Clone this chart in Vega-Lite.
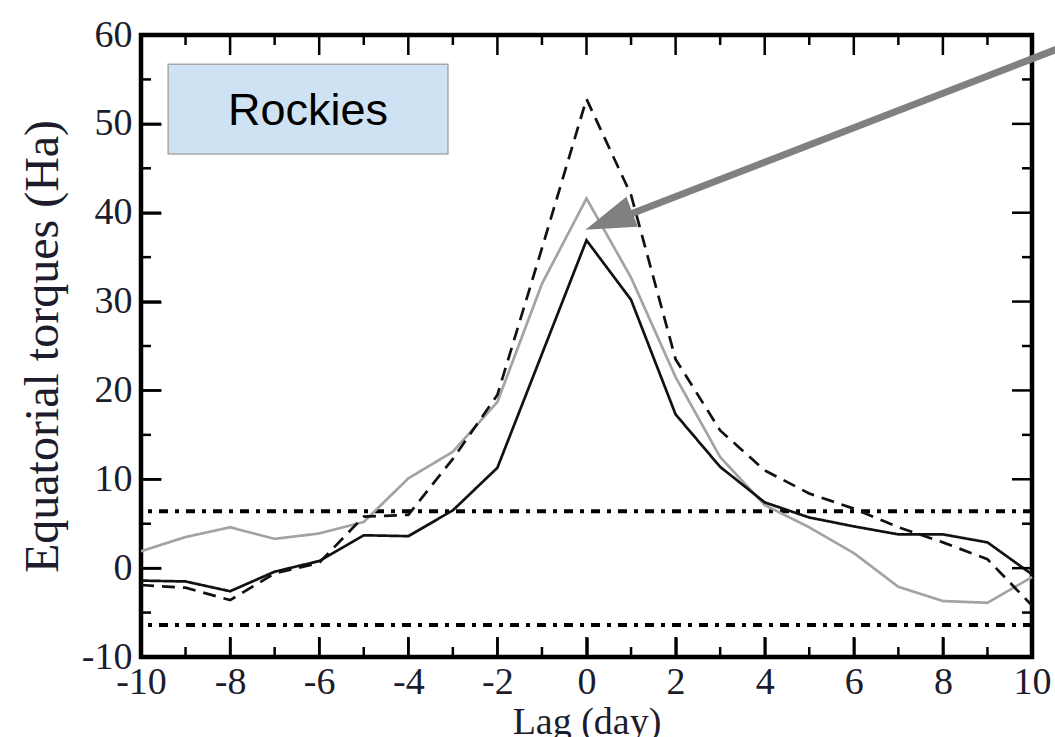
{
  "$schema": "https://vega.github.io/schema/vega-lite/v6.json",
  "width": 891,
  "height": 622,
  "autosize": {"type": "none"},
  "padding": {"left": 141, "top": 35, "right": 23, "bottom": 80},
  "background": "white",
  "config": {
    "view": {"stroke": "#000000", "strokeWidth": 4.5}
  },
  "datasets": {
    "lines": [
      {"lag": -10, "value": 1.9, "series": "gray"},
      {"lag": -9, "value": 3.5, "series": "gray"},
      {"lag": -8, "value": 4.6, "series": "gray"},
      {"lag": -7, "value": 3.3, "series": "gray"},
      {"lag": -6, "value": 3.9, "series": "gray"},
      {"lag": -5, "value": 5.2, "series": "gray"},
      {"lag": -4, "value": 10.1, "series": "gray"},
      {"lag": -3, "value": 13.1, "series": "gray"},
      {"lag": -2, "value": 18.7, "series": "gray"},
      {"lag": -1, "value": 32.0, "series": "gray"},
      {"lag": 0, "value": 41.6, "series": "gray"},
      {"lag": 1, "value": 32.7, "series": "gray"},
      {"lag": 2, "value": 21.5, "series": "gray"},
      {"lag": 3, "value": 12.5, "series": "gray"},
      {"lag": 4, "value": 7.1, "series": "gray"},
      {"lag": 5, "value": 4.6, "series": "gray"},
      {"lag": 6, "value": 1.7, "series": "gray"},
      {"lag": 7, "value": -2.1, "series": "gray"},
      {"lag": 8, "value": -3.7, "series": "gray"},
      {"lag": 9, "value": -3.9, "series": "gray"},
      {"lag": 10, "value": -1.0, "series": "gray"},
      {"lag": -10, "value": -1.4, "series": "black"},
      {"lag": -9, "value": -1.5, "series": "black"},
      {"lag": -8, "value": -2.6, "series": "black"},
      {"lag": -7, "value": -0.4, "series": "black"},
      {"lag": -6, "value": 0.8, "series": "black"},
      {"lag": -5, "value": 3.7, "series": "black"},
      {"lag": -4, "value": 3.6, "series": "black"},
      {"lag": -3, "value": 6.5, "series": "black"},
      {"lag": -2, "value": 11.3, "series": "black"},
      {"lag": -1, "value": 24.1, "series": "black"},
      {"lag": 0, "value": 36.9, "series": "black"},
      {"lag": 1, "value": 30.2, "series": "black"},
      {"lag": 2, "value": 17.3, "series": "black"},
      {"lag": 3, "value": 11.4, "series": "black"},
      {"lag": 4, "value": 7.4, "series": "black"},
      {"lag": 5, "value": 5.7, "series": "black"},
      {"lag": 6, "value": 4.7, "series": "black"},
      {"lag": 7, "value": 3.8, "series": "black"},
      {"lag": 8, "value": 3.8, "series": "black"},
      {"lag": 9, "value": 2.9, "series": "black"},
      {"lag": 10, "value": -0.7, "series": "black"},
      {"lag": -10, "value": -1.9, "series": "dashed"},
      {"lag": -9, "value": -2.2, "series": "dashed"},
      {"lag": -8, "value": -3.6, "series": "dashed"},
      {"lag": -7, "value": -0.6, "series": "dashed"},
      {"lag": -6, "value": 0.6, "series": "dashed"},
      {"lag": -5, "value": 5.8, "series": "dashed"},
      {"lag": -4, "value": 6.0, "series": "dashed"},
      {"lag": -3, "value": 12.3, "series": "dashed"},
      {"lag": -2, "value": 19.5, "series": "dashed"},
      {"lag": -1, "value": 36.0, "series": "dashed"},
      {"lag": 0, "value": 52.8, "series": "dashed"},
      {"lag": 1, "value": 42.0, "series": "dashed"},
      {"lag": 2, "value": 23.5, "series": "dashed"},
      {"lag": 3, "value": 15.5, "series": "dashed"},
      {"lag": 4, "value": 11.0, "series": "dashed"},
      {"lag": 5, "value": 8.4, "series": "dashed"},
      {"lag": 6, "value": 6.7, "series": "dashed"},
      {"lag": 7, "value": 4.6, "series": "dashed"},
      {"lag": 8, "value": 2.9, "series": "dashed"},
      {"lag": 9, "value": 1.0, "series": "dashed"},
      {"lag": 10, "value": -4.2, "series": "dashed"}
    ],
    "levels": [{"level": 6.4}, {"level": -6.4}],
    "xmajor": [{"t": -10}, {"t": -8}, {"t": -6}, {"t": -4}, {"t": -2}, {"t": 0}, {"t": 2}, {"t": 4}, {"t": 6}, {"t": 8}, {"t": 10}],
    "xminor": [{"t": -9}, {"t": -7}, {"t": -5}, {"t": -3}, {"t": -1}, {"t": 1}, {"t": 3}, {"t": 5}, {"t": 7}, {"t": 9}],
    "ymajor": [{"t": -10}, {"t": 0}, {"t": 10}, {"t": 20}, {"t": 30}, {"t": 40}, {"t": 50}, {"t": 60}],
    "yminor": [{"t": -5}, {"t": 5}, {"t": 15}, {"t": 25}, {"t": 35}, {"t": 45}, {"t": 55}],
    "box": [{"x1": -9.39, "x2": -3.11, "y1": 46.6, "y2": 56.7, "tx": -6.25, "ty": 49.86, "label": "Rockies"}],
    "arrow": [{"xs": 10.74, "ys": 58.76, "xe": 0.86, "ye": 39.6}],
    "head": [{"hx": 0.5, "hy": 39.1}]
  },
  "resolve": {"axis": {"x": "independent", "y": "independent"}},
  "layer": [
    {
      "data": {"name": "levels"},
      "mark": {"type": "rule", "color": "#000000", "strokeWidth": 4, "strokeDash": [9, 7, 4, 7]},
      "encoding": {
        "y": {"field": "level", "type": "quantitative", "scale": {"domain": [-10, 60], "nice": false, "zero": false}, "axis": null}
      }
    },
    {
      "data": {"name": "lines"},
      "mark": {"type": "line", "strokeWidth": 2.7},
      "encoding": {
        "x": {
          "field": "lag", "type": "quantitative",
          "scale": {"domain": [-10, 10], "nice": false, "zero": false},
          "axis": {
            "orient": "bottom", "offset": -20, "grid": false, "domain": false,
            "values": [-10, -8, -6, -4, -2, 0, 2, 4, 6, 8, 10],
            "labelExpr": "toString(datum.value)", "labelFlush": false, "labelOverlap": false, "labelBound": false,
            "ticks": true, "tickSize": 20, "tickColor": "#000000", "tickWidth": 2.5,
            "labelFont": "Liberation Serif", "labelFontSize": 38, "labelColor": "#1c1c2c", "labelPadding": 6,
            "title": "Lag (day)", "titleFont": "Liberation Serif", "titleFontSize": 38, "titleFontWeight": "normal", "titleColor": "#1c1c2c", "titlePadding": 2
          }
        },
        "y": {
          "field": "value", "type": "quantitative",
          "scale": {"domain": [-10, 60], "nice": false, "zero": false},
          "axis": {
            "orient": "left", "offset": -20, "grid": false, "domain": false,
            "values": [-10, 0, 10, 20, 30, 40, 50, 60],
            "labelExpr": "toString(datum.value)", "labelFlush": false, "labelOverlap": false, "labelBound": false,
            "ticks": true, "tickSize": 20, "tickColor": "#000000", "tickWidth": 2.5,
            "labelFont": "Liberation Serif", "labelFontSize": 38, "labelColor": "#1c1c2c", "labelPadding": 9,
            "title": "Equatorial torques (Ha)", "titleFont": "Liberation Serif", "titleFontSize": 48, "titleFontWeight": "normal", "titleColor": "#1c1c2c", "titlePadding": 14
          }
        },
        "color": {"field": "series", "type": "nominal", "scale": {"domain": ["gray", "black", "dashed"], "range": ["#a3a3a3", "#111111", "#111111"]}, "legend": null},
        "strokeDash": {"field": "series", "type": "nominal", "scale": {"domain": ["gray", "black", "dashed"], "range": [[1, 0], [1, 0], [13, 8]]}, "legend": null}
      }
    },
    {
      "data": {"name": "xmajor"},
      "mark": {"type": "rule", "color": "#000000", "strokeWidth": 2.5, "y2Offset": -20},
      "encoding": {
        "x": {"field": "t", "type": "quantitative", "scale": {"domain": [-10, 10], "nice": false, "zero": false}, "axis": null},
        "y": {"datum": -10, "type": "quantitative", "scale": {"domain": [-10, 60], "nice": false, "zero": false}, "axis": null},
        "y2": {"datum": -10}
      }
    },
    {
      "data": {"name": "xmajor"},
      "mark": {"type": "rule", "color": "#000000", "strokeWidth": 2.5, "y2Offset": 20},
      "encoding": {
        "x": {"field": "t", "type": "quantitative", "scale": {"domain": [-10, 10], "nice": false, "zero": false}, "axis": null},
        "y": {"datum": 60, "type": "quantitative", "scale": {"domain": [-10, 60], "nice": false, "zero": false}, "axis": null},
        "y2": {"datum": 60}
      }
    },
    {
      "data": {"name": "xminor"},
      "mark": {"type": "rule", "color": "#000000", "strokeWidth": 2.5, "y2Offset": -10},
      "encoding": {
        "x": {"field": "t", "type": "quantitative", "scale": {"domain": [-10, 10], "nice": false, "zero": false}, "axis": null},
        "y": {"datum": -10, "type": "quantitative", "scale": {"domain": [-10, 60], "nice": false, "zero": false}, "axis": null},
        "y2": {"datum": -10}
      }
    },
    {
      "data": {"name": "xminor"},
      "mark": {"type": "rule", "color": "#000000", "strokeWidth": 2.5, "y2Offset": 10},
      "encoding": {
        "x": {"field": "t", "type": "quantitative", "scale": {"domain": [-10, 10], "nice": false, "zero": false}, "axis": null},
        "y": {"datum": 60, "type": "quantitative", "scale": {"domain": [-10, 60], "nice": false, "zero": false}, "axis": null},
        "y2": {"datum": 60}
      }
    },
    {
      "data": {"name": "ymajor"},
      "mark": {"type": "rule", "color": "#000000", "strokeWidth": 2.5, "x2Offset": 20},
      "encoding": {
        "y": {"field": "t", "type": "quantitative", "scale": {"domain": [-10, 60], "nice": false, "zero": false}, "axis": null},
        "x": {"datum": -10, "type": "quantitative", "scale": {"domain": [-10, 10], "nice": false, "zero": false}, "axis": null},
        "x2": {"datum": -10}
      }
    },
    {
      "data": {"name": "ymajor"},
      "mark": {"type": "rule", "color": "#000000", "strokeWidth": 2.5, "x2Offset": -20},
      "encoding": {
        "y": {"field": "t", "type": "quantitative", "scale": {"domain": [-10, 60], "nice": false, "zero": false}, "axis": null},
        "x": {"datum": 10, "type": "quantitative", "scale": {"domain": [-10, 10], "nice": false, "zero": false}, "axis": null},
        "x2": {"datum": 10}
      }
    },
    {
      "data": {"name": "yminor"},
      "mark": {"type": "rule", "color": "#000000", "strokeWidth": 2.5, "x2Offset": 10},
      "encoding": {
        "y": {"field": "t", "type": "quantitative", "scale": {"domain": [-10, 60], "nice": false, "zero": false}, "axis": null},
        "x": {"datum": -10, "type": "quantitative", "scale": {"domain": [-10, 10], "nice": false, "zero": false}, "axis": null},
        "x2": {"datum": -10}
      }
    },
    {
      "data": {"name": "yminor"},
      "mark": {"type": "rule", "color": "#000000", "strokeWidth": 2.5, "x2Offset": -10},
      "encoding": {
        "y": {"field": "t", "type": "quantitative", "scale": {"domain": [-10, 60], "nice": false, "zero": false}, "axis": null},
        "x": {"datum": 10, "type": "quantitative", "scale": {"domain": [-10, 10], "nice": false, "zero": false}, "axis": null},
        "x2": {"datum": 10}
      }
    },
    {
      "data": {"name": "box"},
      "mark": {"type": "rect", "fill": "#cfe2f3", "stroke": "#a8a8a8", "strokeWidth": 1.5},
      "encoding": {
        "x": {"field": "x1", "type": "quantitative", "scale": {"domain": [-10, 10], "nice": false, "zero": false}, "axis": null},
        "x2": {"field": "x2"},
        "y": {"field": "y1", "type": "quantitative", "scale": {"domain": [-10, 60], "nice": false, "zero": false}, "axis": null},
        "y2": {"field": "y2"}
      }
    },
    {
      "data": {"name": "box"},
      "mark": {"type": "text", "font": "Liberation Sans", "fontSize": 45, "color": "#000000", "align": "center", "baseline": "alphabetic"},
      "encoding": {
        "x": {"field": "tx", "type": "quantitative", "scale": {"domain": [-10, 10], "nice": false, "zero": false}, "axis": null},
        "y": {"field": "ty", "type": "quantitative", "scale": {"domain": [-10, 60], "nice": false, "zero": false}, "axis": null},
        "text": {"field": "label"}
      }
    },
    {
      "data": {"name": "arrow"},
      "mark": {"type": "rule", "color": "#808080", "strokeWidth": 7, "strokeCap": "butt"},
      "encoding": {
        "x": {"field": "xs", "type": "quantitative", "scale": {"domain": [-10, 10], "nice": false, "zero": false}, "axis": null},
        "y": {"field": "ys", "type": "quantitative", "scale": {"domain": [-10, 60], "nice": false, "zero": false}, "axis": null},
        "x2": {"field": "xe"},
        "y2": {"field": "ye"}
      }
    },
    {
      "data": {"name": "head"},
      "mark": {"type": "point", "shape": "M0,-1L0.64,1L-0.64,1Z", "filled": true, "fill": "#808080", "strokeWidth": 0, "opacity": 1, "size": 2500, "angle": 249},
      "encoding": {
        "x": {"field": "hx", "type": "quantitative", "scale": {"domain": [-10, 10], "nice": false, "zero": false}, "axis": null},
        "y": {"field": "hy", "type": "quantitative", "scale": {"domain": [-10, 60], "nice": false, "zero": false}, "axis": null}
      }
    }
  ]
}
